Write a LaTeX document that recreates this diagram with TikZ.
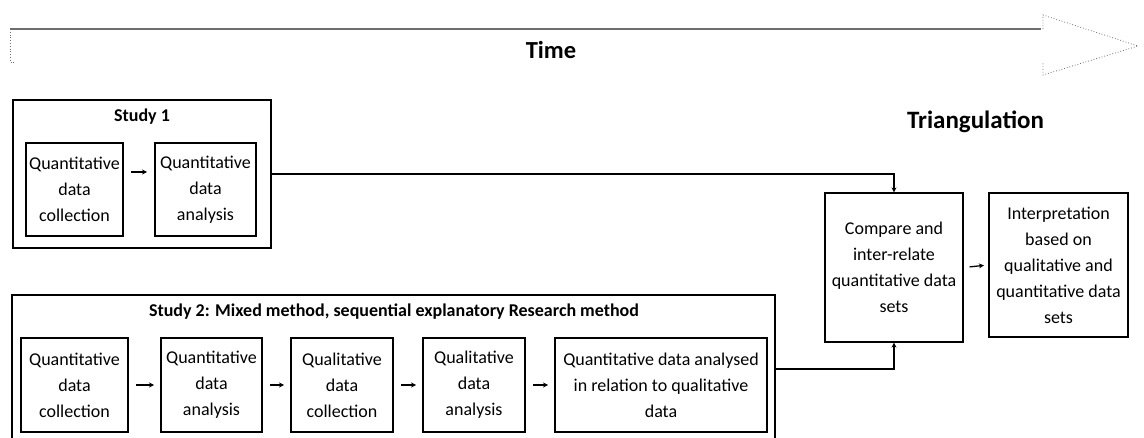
\documentclass[tikz,border=0pt]{standalone}
\usepackage{fontspec}
\setmainfont{Carlito}
\usetikzlibrary{arrows.meta}
\definecolor{timegray}{HTML}{6E6E6E}
\tikzset{
  boxtext/.style={font=\fontsize{18}{26}\selectfont, align=center},
  stepbox/.style={draw, line width=2pt, inner sep=0pt, boxtext},
  studybox/.style={draw, line width=1.6pt, inner sep=0pt},
  heading/.style={font=\bfseries\fontsize{18}{22}\selectfont},
  bigtitle/.style={font=\bfseries\fontsize{25}{30}\selectfont},
  flow/.style={line width=1.3pt, -{Stealth[length=5pt,width=5pt]}},
  link/.style={line width=1.2pt, -{Stealth[length=5pt,width=5pt]}},
  outline/.style={timegray, line width=0.8pt, dotted}
}
\begin{document}
\begin{tikzpicture}[x=1pt,y=-1pt]
\useasboundingbox (0,0) rectangle (1144,438);

% time axis drawn as a block arrow: solid top edge, faint dotted remainder
\coordinate (tl) at (10,29);
\coordinate (tr) at (1041,29);
\draw[timegray, line width=2.5pt] (tl) -- (tr);
\draw[outline] (tl) -- (10,62) -- (15,62);
\draw[outline] (1043,29) -- (1043,15) -- (1138,46) -- (1043,75) -- (1043,63);
\node[bigtitle, font=\bfseries\fontsize{24.5}{28}\selectfont] (time) at (551,50) {Time};

% Study 1
\node[studybox, minimum width=258, minimum height=148] (s1) at (142,174) {};
\node[heading] (s1t) at (142,117) {Study 1};
\node[stepbox, minimum width=97, minimum height=93] (s1a) at (74.5,189.5)
  {Quantitative\\data\\collection};
\node[stepbox, minimum width=101, minimum height=93] (s1b) at (205.5,189.5)
  {Quantitative\\data\\analysis};
\draw[flow, shorten <=7pt, shorten >=7pt] ([yshift=17.5pt]s1a.east) -- ([yshift=17.5pt]s1b.west);

% Study 2 (runs off the bottom edge)
\node[studybox, minimum width=763, minimum height=153] (s2) at (393.5,371.5) {};
\node[heading] (s2t) at (394,312) {Study 2: Mixed method, sequential explanatory Research method};
\node[stepbox, minimum width=107, minimum height=94] (s2a) at (74.5,385)
  {Quantitative\\data\\collection};
\node[stepbox, minimum width=101, minimum height=94] (s2b) at (211.5,385)
  {Quantitative\\data\\analysis};
\node[stepbox, minimum width=102, minimum height=94] (s2c) at (342,385)
  {Qualitative\\data\\collection};
\node[stepbox, minimum width=102, minimum height=94] (s2d) at (474,385)
  {Qualitative\\data\\analysis};
\node[stepbox, minimum width=212, minimum height=94] (s2e) at (661,385)
  {Quantitative data analysed\\in relation to qualitative\\data};
\foreach \a/\b in {s2a/s2b, s2b/s2c, s2c/s2d, s2d/s2e}
  \draw[flow, shorten <=7pt, shorten >=6pt] (\a.east) -- (\b.west);

% Triangulation
\node[bigtitle] (tri) at (975.5,122) {Triangulation};
\node[stepbox, line width=1.2pt, minimum width=138, minimum height=149] (cmp) at (894,267.5)
  {Compare and\\inter-relate\\quantitative data\\sets};
\node[stepbox, line width=2.2pt, minimum width=139, minimum height=144] (int) at (1058.5,265)
  {Interpretation\\based on\\qualitative and\\quantitative data\\sets};
\draw[flow, shorten <=6pt, shorten >=4pt] (cmp.east) -- (int.west);

\draw[link] (s1.east) -| (cmp.north);
\draw[link] ([yshift=2.5pt]s2.east) -| (cmp.south);
\end{tikzpicture}
\end{document}
